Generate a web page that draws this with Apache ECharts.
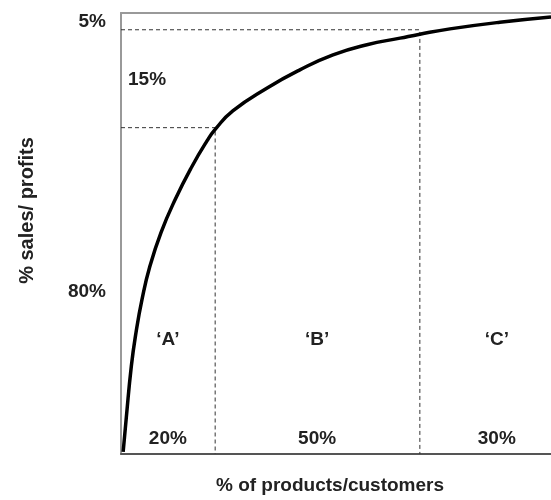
<!DOCTYPE html>
<html>
<head>
<meta charset="utf-8">
<script src="https://cdn.jsdelivr.net/npm/echarts@6/dist/echarts.min.js"></script>
<style>
  html, body { margin: 0; padding: 0; background: #fff; }
  #draw { width: 551px; height: 500px; }
</style>
</head>
<body>
<div id="draw"></div>
<script>
// ABC curve (x: % of items, y: cumulative % sales)
var curveX = [0.5, 1.2, 2.4, 3.5, 4.9, 6.7, 9.3, 12.6, 16.5, 20.0, 21.9, 26.0, 34.0, 41.6, 49.3, 57.2, 64.9, 69.5, 76.5, 88.1, 100];
var curveY = [0.5, 7.9, 19.9, 27.6, 35.1, 42.5, 50.2, 57.7, 65.2, 71.0, 73.6, 77.8, 83.0, 87.1, 90.5, 92.8, 94.3, 95.2, 96.4, 97.9, 99.1];

// cut-off points of the A / B classes
var cutX = [21.9, 69.5];
var cutY = [74.0, 96.2];

// zone labels along x
var zoneNames = ['\u2018A\u2019', '\u2018B\u2019', '\u2018C\u2019'];
var zoneShares = ['20%', '50%', '30%'];
var zoneCenters = [10.9, 45.6, 87.4];
var zoneNameY = 25.8;
var zoneShareY = 3.4;

// share labels along y
var levelNames = ['5%', '15%', '80%'];
var levelY = [98.0, 84.8, 36.7];
var levelSide = ['left', 'right', 'left'];

var font = "'Liberation Sans', Arial, sans-serif";
var txt = '#222';

var myChart = echarts.init(document.getElementById('draw'));

var curve = curveX.map(function(x, i) { return [x, curveY[i]]; });

var dashSeries = cutX.map(function(x, i) {
	return {
		type : 'line',
		data : [ [0, cutY[i]], [x, cutY[i]], [x, 0] ],
		symbol : 'none',
		silent : true,
		lineStyle : { color : '#333', width : 1, type : [4, 3] },
		z : 1
	};
});

var zoneLabels = [];
zoneCenters.forEach(function(x, i) {
	zoneLabels.push({ name : zoneNames[i], value : [x, zoneNameY] });
	zoneLabels.push({ name : zoneShares[i], value : [x, zoneShareY] });
});

var levelLabels = levelNames.map(function(n, i) {
	return {
		name : n,
		value : [0, levelY[i]],
		label : { position : levelSide[i], distance : levelSide[i] == 'left' ? 15 : 7 }
	};
});

var labelStyle = {
	show : true,
	formatter : '{b}',
	fontFamily : font,
	fontSize : 19,
	fontWeight : 'bold',
	color : txt
};

option = {
	animation : false,
	grid : { left : 121, right : 0, top : 13, bottom : 45 },
	xAxis : [ {
		type : 'value',
		min : 0,
		max : 100,
		name : '% of products/customers',
		nameLocation : 'middle',
		nameGap : 22,
		nameTextStyle : {
			fontFamily : font, fontSize : 19, fontWeight : 'bold', color : txt,
			padding : [0, 12, 0, 0]
		},
		axisLine : { show : true, lineStyle : { color : '#555', width : 2 } },
		axisTick : { show : false },
		axisLabel : { show : false },
		splitLine : { show : false }
	}, {
		type : 'value',
		position : 'top',
		min : 0,
		max : 100,
		axisLine : { show : true, lineStyle : { color : '#999', width : 2 } },
		axisTick : { show : false },
		axisLabel : { show : false },
		splitLine : { show : false }
	} ],
	yAxis : {
		type : 'value',
		min : 0,
		max : 100,
		name : '% sales/ profits',
		nameLocation : 'middle',
		nameGap : 84,
		nameTextStyle : {
			fontFamily : font, fontSize : 20, fontWeight : 'bold', color : txt,
			padding : [0, 0, 0, 46]
		},
		axisLine : { show : true, lineStyle : { color : '#999', width : 2 } },
		axisTick : { show : false },
		axisLabel : { show : false },
		splitLine : { show : false }
	},
	series : dashSeries.concat([ {
		type : 'line',
		data : curve,
		smooth : 0.5,
		symbol : 'none',
		lineStyle : { color : '#000', width : 3.5 },
		z : 3
	}, {
		type : 'scatter',
		data : zoneLabels,
		symbolSize : 0,
		itemStyle : { opacity : 1 },
		label : Object.assign({ position : 'inside' }, labelStyle),
		z : 4
	}, {
		type : 'scatter',
		data : levelLabels,
		symbolSize : 0,
		clip : false,
		itemStyle : { opacity : 1 },
		label : labelStyle,
		z : 4
	} ])
};

myChart.setOption(option);
</script>
</body>
</html>
